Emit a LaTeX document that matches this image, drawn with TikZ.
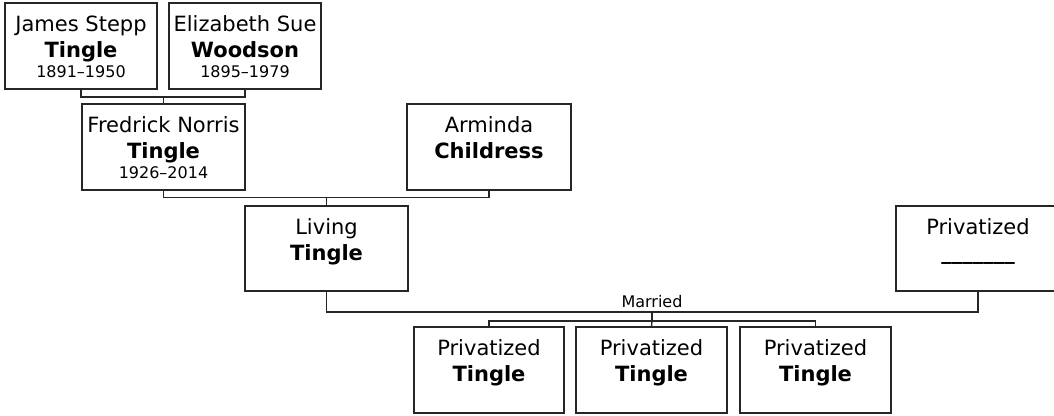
\documentclass[tikz,border=0pt]{standalone}
\usepackage{fontspec}
\setmainfont{DejaVu Sans}
\begin{document}
\begin{tikzpicture}[x=0.75pt,y=-0.75pt,
  box/.style={draw=black!85, line width=1pt, minimum height=64.5pt, inner sep=0pt},
  nm/.style={anchor=north, inner sep=0pt, align=center, text=black,
    font=\fontsize{15.75}{19.5}\selectfont},
  conn/.style={draw=black!85, line width=1pt},
  small/.style={font=\fontsize{12}{15}\selectfont}]
\useasboundingbox (0,0) rectangle (1054,416);
% boxes
\node[box, minimum width=114pt] (J) at (81,46) {};
\node[box, minimum width=114pt] (E) at (245,46) {};
\node[box, minimum width=122.25pt] (F) at (163.5,147) {};
\node[box, minimum width=123pt] (A) at (489,147) {};
\node[box, minimum width=122.25pt, minimum height=63.75pt] (L) at (326.5,248.5) {};
\node[box, minimum width=123pt, minimum height=63.75pt] (P) at (978,248.5) {};
\node[box, minimum width=112.5pt] (K1) at (489,370) {};
\node[box, minimum width=113.25pt] (K2) at (651.5,370) {};
\node[box, minimum width=113.25pt] (K3) at (815.5,370) {};
% texts
\newcommand{\fst}{\rule{0pt}{12pt}}
\newcommand{\dts}[1]{\\[-4.5pt]{\fontsize{12}{15}\selectfont #1}}
\node[nm] (tJ) at ([yshift=-9.75pt]J.north) {\fst James Stepp\\\textbf{Tingle}\dts{1891–1950}};
\node[nm] (tE) at ([yshift=-9.75pt]E.north) {\fst Elizabeth Sue\\\textbf{Woodson}\dts{1895–1979}};
\node[nm] (tF) at ([yshift=-9.75pt]F.north) {\fst Fredrick Norris\\\textbf{Tingle}\dts{1926–2014}};
\node[nm] (tA) at ([yshift=-9.75pt]A.north) {\fst Arminda\\\textbf{Childress}};
\node[nm] (tL) at ([yshift=-9.75pt]L.north) {\fst Living\\\textbf{Tingle}};
\node[nm] (tP) at ([yshift=-9.75pt]P.north) {\fst Privatized\\\raisebox{1pt}{\textbf{\_\_\_\_\_\_\_}}};
\node[nm] (tK1) at ([yshift=-9.75pt]K1.north) {\fst Privatized\\\textbf{Tingle}};
\node[nm] (tK2) at ([yshift=-9.75pt]K2.north) {\fst Privatized\\\textbf{Tingle}};
\node[nm] (tK3) at ([yshift=-9.75pt]K3.north) {\fst Privatized\\\textbf{Tingle}};
% connectors
\coordinate (b1) at (163.5,97);
\draw[conn] (J.south) |- (b1) -| (E.south);
\draw[conn] (b1) -- (F.north);
\coordinate (b2) at (326.5,197.5);
\draw[conn] (F.south) |- (b2) -| (A.south);
\draw[conn] (b2) -- (L.north);
\coordinate (m) at (652,312);
\draw[conn] (L.south) |- (m) -| (P.south);
\node[small, anchor=base, inner sep=0pt] (mar) at (652,308) {Married};
\coordinate (c) at (652,321);
\draw[conn] (m) -- (c);
\draw[conn] (K1.north) |- (c) -| (K3.north);
\draw[conn] (c) -- (K2.north);
\end{tikzpicture}
\end{document}
